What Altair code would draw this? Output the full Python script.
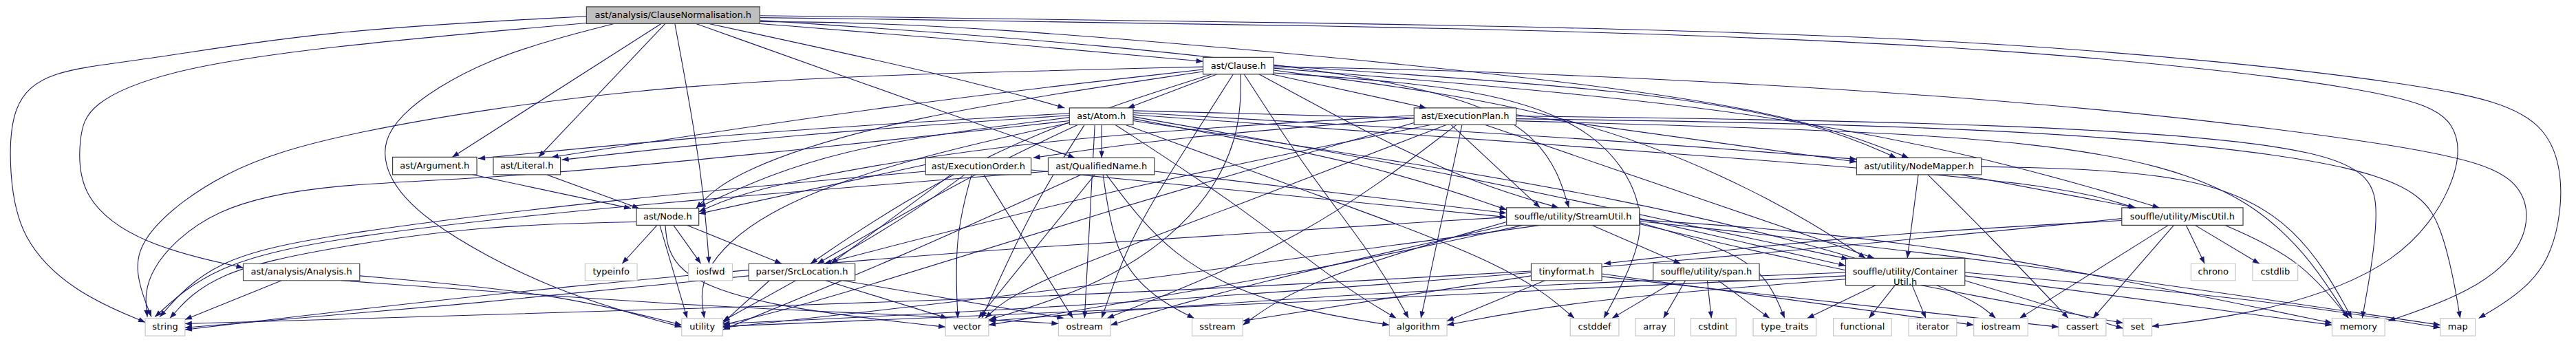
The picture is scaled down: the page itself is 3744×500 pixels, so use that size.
import math
import altair as alt
import pandas as pd

# boxes of the include graph, in pixels of the 3744x500 picture
node_ids = ["root", "clause", "atom", "plan", "argument", "literal", "order", "qname",
            "mapper", "node", "stream", "misc", "analysis", "typeinfo", "iosfwd", "srcloc",
            "tinyformat", "span", "container", "chrono", "cstdlib", "string", "utility",
            "vector", "ostream", "sstream", "algorithm", "cstddef", "array", "cstdint",
            "type_traits", "functional", "iterator", "iostream", "cassert", "set", "memory", "map"]
node_labels = ["ast/analysis/ClauseNormalisation.h", "ast/Clause.h", "ast/Atom.h",
               "ast/ExecutionPlan.h", "ast/Argument.h", "ast/Literal.h", "ast/ExecutionOrder.h",
               "ast/QualifiedName.h", "ast/utility/NodeMapper.h", "ast/Node.h",
               "souffle/utility/StreamUtil.h", "souffle/utility/MiscUtil.h",
               "ast/analysis/Analysis.h", "typeinfo", "iosfwd", "parser/SrcLocation.h",
               "tinyformat.h", "souffle/utility/span.h", "souffle/utility/Container\nUtil.h",
               "chrono", "cstdlib", "string", "utility", "vector", "ostream", "sstream",
               "algorithm", "cstddef", "array", "cstdint", "type_traits", "functional",
               "iterator", "iostream", "cassert", "set", "memory", "map"]
node_x1 = [848, 1748, 1553, 2056, 565, 712, 1343, 1522, 2702, 921, 2191, 3089, 347, 846, 997, 1085,
           2227, 2405, 2686, 3190, 3280, 204, 987, 1372, 1537, 1732, 2020, 2284, 2379, 2460,
           2551, 2668, 2778, 2873, 2997, 3091, 3396, 3554]
node_x2 = [1101, 1851, 1646, 2205, 688, 810, 1497, 1677, 2884, 1012, 2385, 3266, 517, 922, 1061, 1240,
           2330, 2560, 2860, 3255, 3346, 262, 1047, 1435, 1613, 1806, 2104, 2355, 2436, 2526,
           2643, 2753, 2848, 2952, 3066, 3133, 3473, 3605]
node_y1 = [6, 81, 156, 156, 229, 229, 230, 230, 230, 305, 304, 304, 387, 387, 387, 387,
           387, 387, 379, 387, 387] + [468] * 17
node_y2 = [31, 106, 181, 181, 255, 255, 255, 255, 255, 330, 330, 330, 412, 412, 412, 412,
           412, 412, 419, 412, 412] + [494] * 17
node_kind = ["root"] + ["doc"] * 12 + ["sys", "sys", "doc", "doc", "doc", "doc", "sys", "sys"] + ["sys"] * 17

# edges: (target, route points from source border to arrow tip)
edges_root = [
    ("string", [(848, 20), (460, 41), (200, 86), (60, 100), (8, 150), (5, 250), (20, 350), (100, 430), (204, 474)]),
    ("analysis", [(848, 30), (460, 65), (233, 100), (120, 150), (107, 200), (107, 290), (200, 360), (347, 393)]),
    ("utility", [(888, 31), (700, 80), (560, 170), (545, 240), (600, 320), (800, 430), (987, 481)]),
    ("argument", [(957, 31), (652, 229)]),
    ("literal", [(963, 31), (778, 229)]),
    ("iosfwd", [(977, 31), (1017, 250), (1027, 387)]),
    ("qname", [(1008, 31), (1400, 173), (1561, 230)]),
    ("atom", [(1027, 31), (1400, 113), (1546, 156)]),
    ("clause", [(1101, 31), (1380, 53), (1748, 87)]),
    ("mapper", [(1101, 28), (1380, 30), (2160, 100), (2600, 160), (2778, 230)]),
    ("stream", [(1101, 26), (1600, 60), (2100, 120), (2250, 200), (2282, 304)]),
    ("map", [(1101, 19), (2160, 32), (2940, 55), (3550, 120), (3733, 170), (3733, 340), (3690, 420), (3610, 468)]),
    ("set", [(1101, 22), (2160, 36), (2940, 65), (3500, 130), (3583, 175), (3583, 260), (3500, 390), (3300, 460), (3133, 480)]),
]
edges_clause = [
    ("string", [(1748, 95), (1380, 103), (920, 123), (480, 193), (313, 250), (200, 340), (187, 400), (213, 466)]),
    ("atom", [(1768, 106), (1638, 156)]),
    ("plan", [(1849, 106), (2074, 156)]),
    ("literal", [(1748, 99), (1300, 150), (797, 229)]),
    ("node", [(1748, 102), (1300, 170), (1060, 250), (1008, 305)]),
    ("srcloc", [(1760, 106), (1500, 190), (1300, 300), (1175, 387)]),
    ("ostream", [(1792, 106), (1720, 220), (1640, 350), (1600, 468)]),
    ("vector", [(1803, 106), (1803, 200), (1740, 320), (1600, 420), (1436, 470)]),
    ("algorithm", [(1808, 106), (1900, 250), (2000, 380), (2048, 468)]),
    ("stream", [(1830, 106), (2000, 200), (2150, 270), (2267, 304)]),
    ("mapper", [(1851, 93), (2400, 130), (2650, 180), (2760, 230)]),
    ("container", [(1851, 100), (2300, 160), (2600, 300), (2715, 379)]),
    ("misc", [(1851, 97), (2500, 150), (2900, 230), (3144, 304)]),
    ("cstddef", [(1851, 104), (2160, 125), (2330, 190), (2395, 300), (2380, 380), (2333, 468)]),
    ("memory", [(1851, 95), (2160, 100), (2940, 140), (3550, 215), (3684, 260), (3684, 360), (3600, 430), (3478, 472)]),
]
edges_atom = [
    ("qname", [(1600, 181), (1600, 230)]),
    ("argument", [(1553, 164), (1100, 190), (690, 231)]),
    ("literal", [(1553, 167), (1150, 195), (812, 233)]),
    ("node", [(1553, 170), (1200, 215), (1012, 303)]),
    ("srcloc", [(1565, 181), (1400, 260), (1185, 387)]),
    ("string", [(1553, 175), (1100, 225), (700, 262), (480, 268), (300, 300), (200, 400), (207, 466)]),
    ("utility", [(1553, 178), (1300, 235), (1100, 310), (1010, 400), (1020, 468)]),
    ("vector", [(1575, 181), (1500, 300), (1425, 468)]),
    ("ostream", [(1590, 181), (1575, 468)]),
    ("algorithm", [(1620, 181), (1800, 300), (1950, 420), (2030, 468)]),
    ("cstddef", [(1635, 181), (1900, 280), (2200, 390), (2290, 468)]),
    ("stream", [(1646, 172), (2000, 240), (2191, 307)]),
    ("container", [(1646, 169), (2100, 250), (2500, 340), (2690, 380)]),
    ("mapper", [(1646, 163), (2300, 200), (2702, 232)]),
    ("misc", [(1646, 166), (2600, 235), (3000, 270), (3108, 304)]),
    ("memory", [(1646, 160), (2400, 180), (3000, 200), (3300, 280), (3420, 468)]),
    ("iostream", [(1646, 175), (2400, 290), (2850, 420), (2905, 468)]),
]
edges_plan = [
    ("order", [(2056, 171), (1700, 200), (1500, 230)]),
    ("node", [(2056, 167), (1500, 200), (1100, 270), (1012, 310)]),
    ("srcloc", [(2080, 181), (1600, 280), (1195, 387)]),
    ("stream", [(2110, 181), (2240, 304)]),
    ("vector", [(2103, 181), (1800, 300), (1480, 420), (1430, 468)]),
    ("ostream", [(2118, 181), (1900, 350), (1608, 468)]),
    ("algorithm", [(2126, 181), (2066, 468)]),
    ("utility", [(2056, 178), (1600, 310), (1200, 440), (1047, 478)]),
    ("container", [(2160, 181), (2500, 300), (2728, 379)]),
    ("mapper", [(2205, 166), (2702, 236)]),
    ("memory", [(2205, 168), (2940, 178), (3440, 215), (3470, 300), (3440, 468)]),
    ("map", [(2205, 172), (2940, 183), (3500, 240), (3560, 330), (3583, 468)]),
]
edges_order = [
    ("node", [(1343, 240), (1012, 313)]),
    ("srcloc", [(1380, 255), (1205, 387)]),
    ("stream", [(1497, 248), (2191, 318)]),
    ("string", [(1343, 250), (900, 290), (480, 342), (300, 380), (225, 466)]),
    ("utility", [(1400, 255), (1300, 330), (1047, 472)]),
    ("vector", [(1410, 255), (1385, 350), (1390, 468)]),
    ("ostream", [(1428, 255), (1558, 468)]),
]
edges_qname = [
    ("stream", [(1677, 250), (2191, 312)]),
    ("string", [(1522, 250), (900, 300), (480, 347), (300, 390), (218, 466)]),
    ("utility", [(1570, 255), (1300, 380), (1047, 485)]),
    ("vector", [(1590, 255), (1420, 468)]),
    ("sstream", [(1602, 255), (1620, 380), (1680, 440), (1735, 468)]),
    ("algorithm", [(1607, 255), (1700, 380), (1850, 450), (2020, 478)]),
]
edges_node = [
    ("srcloc", [(995, 330), (1133, 387)]),
    ("iosfwd", [(975, 330), (1015, 387)]),
    ("typeinfo", [(951, 330), (900, 387)]),
    ("vector", [(963, 330), (970, 400), (1100, 450), (1372, 481)]),
    ("string", [(921, 325), (700, 330), (480, 362), (300, 400), (240, 468)]),
    ("utility", [(955, 330), (995, 468)]),
]
edges_argument = [("node", [(682, 255), (913, 305)])]
edges_literal = [("node", [(790, 255), (925, 305)])]
edges_analysis = [
    ("string", [(403, 412), (262, 470)]),
    ("utility", [(517, 405), (800, 430), (987, 478)]),
    ("ostream", [(490, 412), (1000, 450), (1300, 462), (1537, 476)]),
]
edges_srcloc = [
    ("string", [(1085, 405), (700, 445), (262, 482)]),
    ("utility", [(1115, 412), (1047, 475)]),
    ("vector", [(1197, 412), (1375, 468)]),
    ("ostream", [(1222, 412), (1545, 468)]),
]
edges_stream = [
    ("container", [(2385, 320), (2686, 390)]),
    ("span", [(2316, 330), (2445, 387)]),
    ("string", [(2191, 318), (1500, 360), (800, 420), (262, 485)]),
    ("utility", [(2240, 330), (1600, 420), (1047, 482)]),
    ("vector", [(2215, 330), (1900, 400), (1435, 478)]),
    ("ostream", [(2200, 328), (1800, 420), (1613, 478)]),
    ("sstream", [(2191, 325), (1900, 410), (1806, 478)]),
    ("type_traits", [(2385, 326), (2500, 360), (2570, 400), (2597, 468)]),
    ("set", [(2385, 328), (2600, 380), (2900, 440), (3091, 475)]),
    ("memory", [(2385, 322), (2800, 350), (3396, 475)]),
    ("map", [(2385, 324), (2900, 380), (3554, 478)]),
]
edges_tinyformat = [
    ("iostream", [(2330, 402), (2873, 478)]),
    ("cassert", [(2330, 406), (2997, 481)]),
    ("sstream", [(2227, 405), (1806, 472)]),
    ("algorithm", [(2247, 412), (2104, 472)]),
    ("string", [(2227, 398), (1500, 440), (262, 476)]),
]
edges_span = [
    ("cstddef", [(2438, 412), (2345, 468)]),
    ("array", [(2452, 412), (2420, 468)]),
    ("cstdint", [(2484, 412), (2490, 468)]),
    ("type_traits", [(2500, 412), (2575, 468)]),
]
edges_container = [
    ("type_traits", [(2730, 419), (2630, 468)]),
    ("functional", [(2758, 419), (2720, 468)]),
    ("iterator", [(2783, 419), (2803, 468)]),
    ("algorithm", [(2686, 410), (2300, 440), (2104, 478)]),
    ("utility", [(2686, 405), (2000, 440), (1047, 480)]),
    ("vector", [(2686, 400), (2000, 428), (1435, 472)]),
    ("memory", [(2860, 405), (3396, 478)]),
    ("map", [(2860, 400), (3300, 440), (3554, 482)]),
    ("set", [(2860, 412), (3091, 483)]),
]
edges_mapper = [
    ("container", [(2792, 255), (2776, 379)]),
    ("cassert", [(2806, 255), (2900, 350), (3011, 468)]),
    ("misc", [(2854, 255), (3110, 304)]),
    ("memory", [(2884, 243), (3200, 250), (3350, 330), (3425, 468)]),
]
edges_misc = [
    ("tinyformat", [(3089, 323), (2700, 345), (2333, 387)]),
    ("chrono", [(3183, 330), (3210, 387)]),
    ("cstdlib", [(3196, 330), (3290, 387)]),
    ("cassert", [(3165, 330), (3047, 468)]),
    ("iostream", [(3157, 330), (2940, 468)]),
    ("memory", [(3240, 330), (3350, 380), (3420, 468)]),
    ("utility", [(3089, 320), (2500, 380), (1600, 450), (1047, 476)]),
]

W, H = 3728, 484
X_DOM, Y_DOM = [0, 3744], [4, 498]
SX = W / (X_DOM[1] - X_DOM[0])
SY = H / (Y_DOM[1] - Y_DOM[0])
EDGE_COLOR = "#191970"

nodes = pd.DataFrame({
    "id": node_ids, "label": node_labels, "x1": node_x1, "x2": node_x2,
    "y1": node_y1, "y2": node_y2, "kind": node_kind,
})
nodes["cx"] = (nodes["x1"] + nodes["x2"]) / 2
nodes["cy"] = (nodes["y1"] + nodes["y2"]) / 2

groups = [edges_root, edges_clause, edges_atom, edges_plan, edges_order, edges_qname,
          edges_node, edges_argument, edges_literal, edges_analysis, edges_srcloc,
          edges_stream, edges_tinyformat, edges_span, edges_container, edges_mapper, edges_misc]
rows, heads = [], []
k = 0
for group in groups:
    for tgt, pts in group:
        for i, (x, y) in enumerate(pts):
            rows.append({"edge": k, "i": i, "x": x, "y": y})
        (xa, ya), (xb, yb) = pts[-2], pts[-1]
        ang = math.degrees(math.atan2(-(xb - xa) * SX, (yb - ya) * SY)) % 360
        heads.append({"x": xb, "y": yb, "angle": ang})
        k += 1
edge_df = pd.DataFrame(rows)
head_df = pd.DataFrame(heads)

xs = alt.Scale(domain=X_DOM, nice=False, zero=False)
ys = alt.Scale(domain=Y_DOM, nice=False, zero=False, reverse=True)

lines = (
    alt.Chart(edge_df)
    .mark_line(color=EDGE_COLOR, strokeWidth=1.1, interpolate="basis")
    .encode(
        x=alt.X("x:Q", scale=xs, axis=None),
        y=alt.Y("y:Q", scale=ys, axis=None),
        detail="edge:N",
        order="i:Q",
    )
)

boxes = (
    alt.Chart(nodes)
    .mark_rect(strokeWidth=1.2)
    .encode(
        x=alt.X("x1:Q", scale=xs, axis=None),
        x2="x2:Q",
        y=alt.Y("y1:Q", scale=ys, axis=None),
        y2="y2:Q",
        fill=alt.Fill("kind:N", scale=alt.Scale(domain=["root", "doc", "sys"],
                                                 range=["#bfbfbf", "#ffffff", "#ffffff"]), legend=None),
        stroke=alt.Stroke("kind:N", scale=alt.Scale(domain=["root", "doc", "sys"],
                                                     range=["#404040", "#404040", "#c8c8c8"]), legend=None),
    )
)

labels = (
    alt.Chart(nodes)
    .mark_text(font="DejaVu Sans", fontSize=13, color="black", lineBreak="\n",
               baseline="middle", align="center", lineHeight=15)
    .encode(
        x=alt.X("cx:Q", scale=xs, axis=None),
        y=alt.Y("cy:Q", scale=ys, axis=None),
        text="label:N",
    )
)

arrows = (
    alt.Chart(head_df)
    .mark_point(shape="M0,0L-0.75,-2L0.75,-2Z", filled=True, color=EDGE_COLOR,
                size=100, opacity=1, strokeWidth=0)
    .encode(
        x=alt.X("x:Q", scale=xs, axis=None),
        y=alt.Y("y:Q", scale=ys, axis=None),
        angle=alt.Angle("angle:Q", scale=None),
    )
)

chart = (
    alt.layer(lines, boxes, labels, arrows)
    .properties(width=W, height=H, autosize=alt.AutoSizeParams(type="none"), padding=0)
    .configure_view(strokeWidth=0)
)

chart.save("out.html", embed_options={"renderer": "svg", "actions": False})
